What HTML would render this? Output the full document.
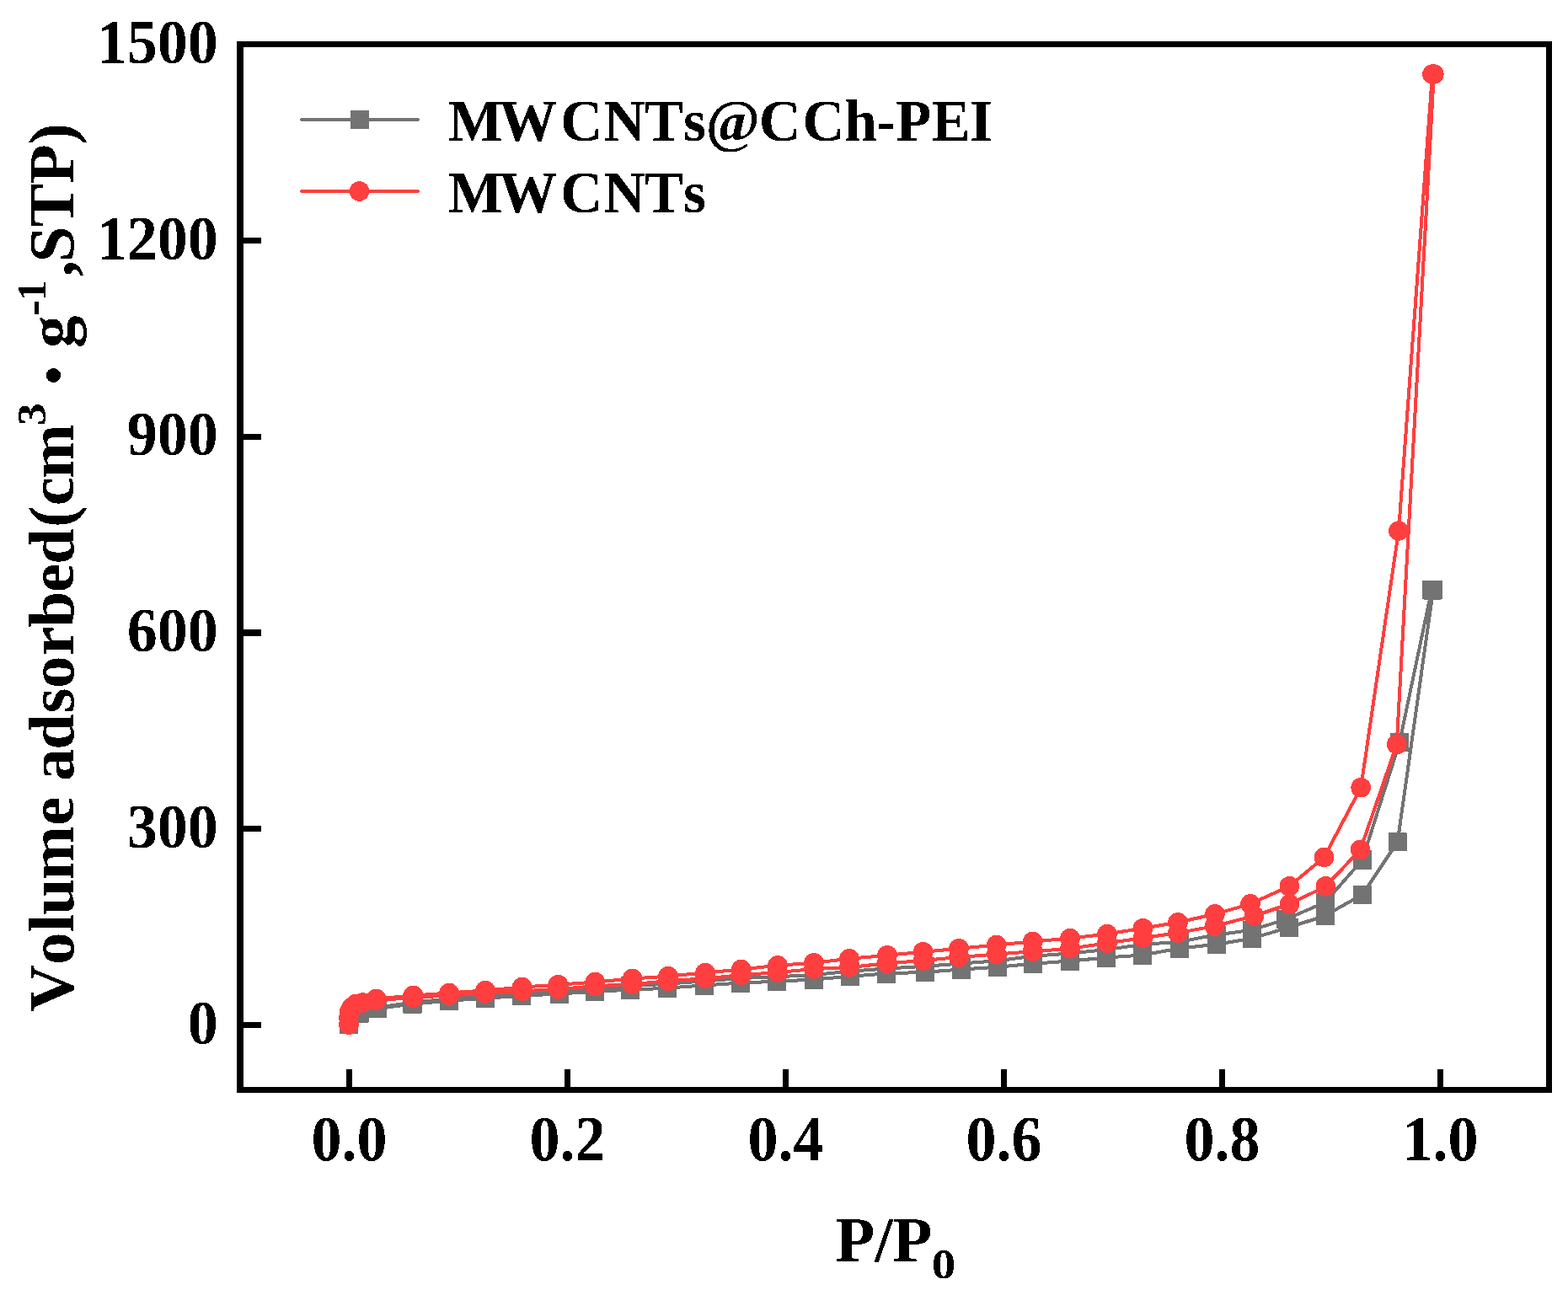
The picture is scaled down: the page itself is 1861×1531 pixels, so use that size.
<!DOCTYPE html>
<html><head><meta charset="utf-8"><title>Isotherm</title>
<style>html,body{margin:0;padding:0;background:#fff;overflow:hidden}svg{display:block}text{font-kerning:none;font-feature-settings:"kern" 0, "liga" 0}</style>
</head><body>
<svg width="1861" height="1531" viewBox="0 0 1861 1531">
<rect width="1861" height="1531" fill="#fff"/>
<defs><filter id="crisp" color-interpolation-filters="sRGB" x="0" y="0" width="1861" height="1531" filterUnits="userSpaceOnUse"><feComponentTransfer><feFuncA type="discrete" tableValues="0 1"/></feComponentTransfer></filter></defs>
<g filter="url(#crisp)">
<g fill="none" stroke="#737373" stroke-width="4" stroke-linejoin="round" stroke-linecap="round">
<polyline points="414.0,1215.8 426.7,1202.5 448.2,1196.7 489.5,1191.7 533.0,1187.6 576.0,1184.7 619.0,1181.7 664.0,1179.6 706.0,1176.7 748.0,1174.8 792.0,1172.6 836.0,1169.5 879.0,1166.6 922.0,1164.7 966.0,1162.5 1009.0,1158.7 1052.0,1155.6 1098.0,1153.8 1141.0,1150.6 1184.0,1147.7 1226.0,1143.7 1270.0,1140.5 1313.0,1136.6 1356.0,1133.5 1400.0,1125.5 1443.8,1120.7 1486.0,1113.7 1530.0,1100.7 1573.0,1086.6 1617.0,1061.6 1658.7,999.3 1700.9,700.4"/>
<polyline points="1699.1,700.4 1661.0,881.4 1617.0,1020.5 1573.0,1070.7 1526.3,1091.1 1486.0,1103.7 1443.8,1109.4 1400.0,1117.8 1356.0,1121.0 1313.0,1127.1 1270.0,1131.5 1226.0,1134.7 1184.0,1140.2 1141.0,1143.6 1098.0,1146.8 1052.0,1149.6 1009.0,1152.7 966.0,1157.0 922.0,1159.2 879.0,1161.1 836.0,1164.5 792.0,1167.6 748.0,1170.3 706.0,1172.7 664.0,1176.1 619.0,1178.7 576.0,1182.2 533.0,1185.6 489.5,1189.7 448.2,1195.7"/>
</g>
<g fill="#737373">
<rect x="403.0" y="1204.8" width="22" height="22"/>
<rect x="415.7" y="1191.5" width="22" height="22"/>
<rect x="437.2" y="1185.7" width="22" height="22"/>
<rect x="478.5" y="1180.7" width="22" height="22"/>
<rect x="522.0" y="1176.6" width="22" height="22"/>
<rect x="565.0" y="1173.7" width="22" height="22"/>
<rect x="608.0" y="1170.7" width="22" height="22"/>
<rect x="653.0" y="1168.6" width="22" height="22"/>
<rect x="695.0" y="1165.7" width="22" height="22"/>
<rect x="737.0" y="1163.8" width="22" height="22"/>
<rect x="781.0" y="1161.6" width="22" height="22"/>
<rect x="825.0" y="1158.5" width="22" height="22"/>
<rect x="868.0" y="1155.6" width="22" height="22"/>
<rect x="911.0" y="1153.7" width="22" height="22"/>
<rect x="955.0" y="1151.5" width="22" height="22"/>
<rect x="998.0" y="1147.7" width="22" height="22"/>
<rect x="1041.0" y="1144.6" width="22" height="22"/>
<rect x="1087.0" y="1142.8" width="22" height="22"/>
<rect x="1130.0" y="1139.6" width="22" height="22"/>
<rect x="1173.0" y="1136.7" width="22" height="22"/>
<rect x="1215.0" y="1132.7" width="22" height="22"/>
<rect x="1259.0" y="1129.5" width="22" height="22"/>
<rect x="1302.0" y="1125.6" width="22" height="22"/>
<rect x="1345.0" y="1122.5" width="22" height="22"/>
<rect x="1389.0" y="1114.5" width="22" height="22"/>
<rect x="1432.8" y="1109.7" width="22" height="22"/>
<rect x="1475.0" y="1102.7" width="22" height="22"/>
<rect x="1519.0" y="1089.7" width="22" height="22"/>
<rect x="1562.0" y="1075.6" width="22" height="22"/>
<rect x="1606.0" y="1050.6" width="22" height="22"/>
<rect x="1647.7" y="988.3" width="22" height="22"/>
<rect x="1689.9" y="689.4" width="22" height="22"/>
<rect x="1688.1" y="689.4" width="22" height="22"/>
<rect x="1650.0" y="870.4" width="22" height="22"/>
<rect x="1606.0" y="1009.5" width="22" height="22"/>
<rect x="1562.0" y="1059.7" width="22" height="22"/>
<rect x="1515.3" y="1080.1" width="22" height="22"/>
<rect x="1475.0" y="1092.7" width="22" height="22"/>
<rect x="1432.8" y="1098.4" width="22" height="22"/>
<rect x="1389.0" y="1106.8" width="22" height="22"/>
<rect x="1345.0" y="1110.0" width="22" height="22"/>
<rect x="1302.0" y="1116.1" width="22" height="22"/>
<rect x="1259.0" y="1120.5" width="22" height="22"/>
<rect x="1215.0" y="1123.7" width="22" height="22"/>
<rect x="1173.0" y="1129.2" width="22" height="22"/>
<rect x="1130.0" y="1132.6" width="22" height="22"/>
<rect x="1087.0" y="1135.8" width="22" height="22"/>
<rect x="1041.0" y="1138.6" width="22" height="22"/>
<rect x="998.0" y="1141.7" width="22" height="22"/>
<rect x="955.0" y="1146.0" width="22" height="22"/>
<rect x="911.0" y="1148.2" width="22" height="22"/>
<rect x="868.0" y="1150.1" width="22" height="22"/>
<rect x="825.0" y="1153.5" width="22" height="22"/>
<rect x="781.0" y="1156.6" width="22" height="22"/>
<rect x="737.0" y="1159.3" width="22" height="22"/>
<rect x="695.0" y="1161.7" width="22" height="22"/>
<rect x="653.0" y="1165.1" width="22" height="22"/>
<rect x="608.0" y="1167.7" width="22" height="22"/>
<rect x="565.0" y="1171.2" width="22" height="22"/>
<rect x="522.0" y="1174.6" width="22" height="22"/>
<rect x="478.5" y="1178.7" width="22" height="22"/>
<rect x="437.2" y="1184.7" width="22" height="22"/>
</g>
<g fill="none" stroke="#FF3F3F" stroke-width="4" stroke-linejoin="round" stroke-linecap="round">
<polyline points="414.0,1216.2 413.9,1208.0 414.5,1201.0 417.5,1195.5 423.0,1191.2 430.5,1190.0 446.6,1187.2 490.5,1184.1 533.0,1181.2 576.0,1179.0 619.7,1176.2 662.5,1174.0 706.3,1170.3 750.6,1168.1 793.0,1164.3 837.0,1161.2 879.8,1157.2 923.0,1154.0 966.0,1150.0 1008.0,1147.9 1053.0,1143.3 1095.6,1140.1 1138.0,1136.1 1182.8,1132.6 1225.7,1129.2 1270.0,1125.7 1314.0,1119.2 1356.4,1113.3 1398.0,1107.1 1441.5,1099.1 1488.5,1087.0 1530.5,1073.0 1573.4,1051.8 1614.6,1008.3 1657.7,883.3 1701.8,88.0"/>
<polyline points="1700.0,88.0 1660.0,630.0 1615.2,934.7 1571.5,1017.5 1530.3,1051.8 1484.0,1072.8 1442.0,1084.8 1398.0,1094.8 1356.4,1101.7 1314.0,1108.5 1270.0,1113.6 1225.7,1117.6 1182.8,1121.6 1138.0,1125.7 1095.6,1129.7 1053.0,1133.7 1008.0,1137.8 966.0,1142.7 923.0,1145.8 879.8,1150.6 837.0,1154.6 793.0,1158.6 750.6,1161.6 706.3,1165.6 662.5,1168.8 619.7,1171.5 576.0,1175.5 533.0,1178.5 490.5,1181.6 446.6,1185.6"/>
</g>
<g fill="#FF3F3F">
<circle cx="414.0" cy="1216.2" r="11.8"/>
<circle cx="413.9" cy="1208.0" r="11.8"/>
<circle cx="414.5" cy="1201.0" r="11.8"/>
<circle cx="417.5" cy="1195.5" r="11.8"/>
<circle cx="423.0" cy="1191.2" r="11.8"/>
<circle cx="430.5" cy="1190.0" r="11.8"/>
<circle cx="446.6" cy="1187.2" r="11.8"/>
<circle cx="490.5" cy="1184.1" r="11.8"/>
<circle cx="533.0" cy="1181.2" r="11.8"/>
<circle cx="576.0" cy="1179.0" r="11.8"/>
<circle cx="619.7" cy="1176.2" r="11.8"/>
<circle cx="662.5" cy="1174.0" r="11.8"/>
<circle cx="706.3" cy="1170.3" r="11.8"/>
<circle cx="750.6" cy="1168.1" r="11.8"/>
<circle cx="793.0" cy="1164.3" r="11.8"/>
<circle cx="837.0" cy="1161.2" r="11.8"/>
<circle cx="879.8" cy="1157.2" r="11.8"/>
<circle cx="923.0" cy="1154.0" r="11.8"/>
<circle cx="966.0" cy="1150.0" r="11.8"/>
<circle cx="1008.0" cy="1147.9" r="11.8"/>
<circle cx="1053.0" cy="1143.3" r="11.8"/>
<circle cx="1095.6" cy="1140.1" r="11.8"/>
<circle cx="1138.0" cy="1136.1" r="11.8"/>
<circle cx="1182.8" cy="1132.6" r="11.8"/>
<circle cx="1225.7" cy="1129.2" r="11.8"/>
<circle cx="1270.0" cy="1125.7" r="11.8"/>
<circle cx="1314.0" cy="1119.2" r="11.8"/>
<circle cx="1356.4" cy="1113.3" r="11.8"/>
<circle cx="1398.0" cy="1107.1" r="11.8"/>
<circle cx="1441.5" cy="1099.1" r="11.8"/>
<circle cx="1488.5" cy="1087.0" r="11.8"/>
<circle cx="1530.5" cy="1073.0" r="11.8"/>
<circle cx="1573.4" cy="1051.8" r="11.8"/>
<circle cx="1614.6" cy="1008.3" r="11.8"/>
<circle cx="1657.7" cy="883.3" r="11.8"/>
<circle cx="1701.8" cy="88.0" r="11.8"/>
<circle cx="1700.0" cy="88.0" r="11.8"/>
<circle cx="1660.0" cy="630.0" r="11.8"/>
<circle cx="1615.2" cy="934.7" r="11.8"/>
<circle cx="1571.5" cy="1017.5" r="11.8"/>
<circle cx="1530.3" cy="1051.8" r="11.8"/>
<circle cx="1484.0" cy="1072.8" r="11.8"/>
<circle cx="1442.0" cy="1084.8" r="11.8"/>
<circle cx="1398.0" cy="1094.8" r="11.8"/>
<circle cx="1356.4" cy="1101.7" r="11.8"/>
<circle cx="1314.0" cy="1108.5" r="11.8"/>
<circle cx="1270.0" cy="1113.6" r="11.8"/>
<circle cx="1225.7" cy="1117.6" r="11.8"/>
<circle cx="1182.8" cy="1121.6" r="11.8"/>
<circle cx="1138.0" cy="1125.7" r="11.8"/>
<circle cx="1095.6" cy="1129.7" r="11.8"/>
<circle cx="1053.0" cy="1133.7" r="11.8"/>
<circle cx="1008.0" cy="1137.8" r="11.8"/>
<circle cx="966.0" cy="1142.7" r="11.8"/>
<circle cx="923.0" cy="1145.8" r="11.8"/>
<circle cx="879.8" cy="1150.6" r="11.8"/>
<circle cx="837.0" cy="1154.6" r="11.8"/>
<circle cx="793.0" cy="1158.6" r="11.8"/>
<circle cx="750.6" cy="1161.6" r="11.8"/>
<circle cx="706.3" cy="1165.6" r="11.8"/>
<circle cx="662.5" cy="1168.8" r="11.8"/>
<circle cx="619.7" cy="1171.5" r="11.8"/>
<circle cx="576.0" cy="1175.5" r="11.8"/>
<circle cx="533.0" cy="1178.5" r="11.8"/>
<circle cx="490.5" cy="1181.6" r="11.8"/>
<circle cx="446.6" cy="1185.6" r="11.8"/>
</g>
<g fill="#000">
<rect x="281" y="49" width="8" height="1248"/>
<rect x="281" y="49" width="1561" height="7"/>
<rect x="1835" y="49" width="7" height="1248"/>
<rect x="281" y="1290" width="1561" height="7"/>
<rect x="411.0" y="1269" width="7" height="21"/>
<rect x="670.0" y="1269" width="7" height="21"/>
<rect x="929.0" y="1269" width="7" height="21"/>
<rect x="1188.0" y="1269" width="7" height="21"/>
<rect x="1447.0" y="1269" width="7" height="21"/>
<rect x="1706.0" y="1269" width="7" height="21"/>
<rect x="289" y="1213.00" width="21" height="7"/>
<rect x="289" y="980.25" width="21" height="7"/>
<rect x="289" y="747.50" width="21" height="7"/>
<rect x="289" y="514.75" width="21" height="7"/>
<rect x="289" y="282.00" width="21" height="7"/>
</g>
<g font-family="'Liberation Serif', serif" font-weight="bold" fill="#000">
<g font-size="72" text-anchor="end">
<text transform="translate(258.7,1238.6) scale(1,1.04)">0</text>
<text transform="translate(258.7,1005.9) scale(1,1.04)">300</text>
<text transform="translate(258.7,773.1) scale(1,1.04)">600</text>
<text transform="translate(258.7,540.4) scale(1,1.04)">900</text>
<text transform="translate(258.7,307.6) scale(1,1.04)">1200</text>
<text transform="translate(258.7,74.8) scale(1,1.04)">1500</text>
</g>
<g font-size="72" text-anchor="middle">
<text transform="translate(414.5,1376.9) scale(1,1.045)">0.0</text>
<text transform="translate(673.5,1376.9) scale(1,1.045)">0.2</text>
<text transform="translate(932.5,1376.9) scale(1,1.045)">0.4</text>
<text transform="translate(1191.5,1376.9) scale(1,1.045)">0.6</text>
<text transform="translate(1450.5,1376.9) scale(1,1.045)">0.8</text>
<text transform="translate(1709.5,1376.9) scale(1,1.045)">1.0</text>
</g>
<text x="991.37 1038.23 1059.42" y="1496.8" font-size="77">P/P</text>
<text transform="translate(1105.68,1517.4) scale(1.13,1)" font-size="50.5">0</text>
<g transform="translate(87,1200) rotate(-90)" font-size="77">
<text x="-0.55 55.05 93.66 114.34 155.40 220.24 254.42 273.04 310.36 353.54 383.10 422.01 455.26 496.89 530.31 573.93 599.65 632.15" y="0">Volume adsorbed(cm</text>
<text transform="translate(694.68,-32.6) scale(1.1,1)" font-size="49">3</text>
<text x="737.12" y="11.2" font-size="105">·</text>
<text x="787.06" y="0">g</text>
<text x="824.39" y="-29.7" font-size="58">-</text>
<text x="843.06" y="-32.6" font-size="49">1</text>
<text x="871.73 888.47 930.55 981.67 1028.28" y="0">,STP)</text>
</g>
<line x1="358" y1="142" x2="496" y2="142" stroke="#737373" stroke-width="4" stroke-linecap="round"/>
<rect x="416" y="131" width="22" height="22" fill="#737373"/>
<line x1="358" y1="227" x2="496" y2="227" stroke="#FF3F3F" stroke-width="4" stroke-linecap="round"/>
<circle cx="426.5" cy="227" r="11.8" fill="#FF3F3F"/>
<text x="531.79 592.05 665.23 716.18 765.07 810.97 837.66 900.83 952.43 1002.48 1039.96 1063.36 1105.67 1151.12" y="166.8" font-size="69">MWCNTs@CCh-PEI</text>
<text x="531.79 592.05 665.23 716.18 765.07 810.97" y="251.8" font-size="69">MWCNTs</text>
</g>
</g>
</svg>
</body></html>
